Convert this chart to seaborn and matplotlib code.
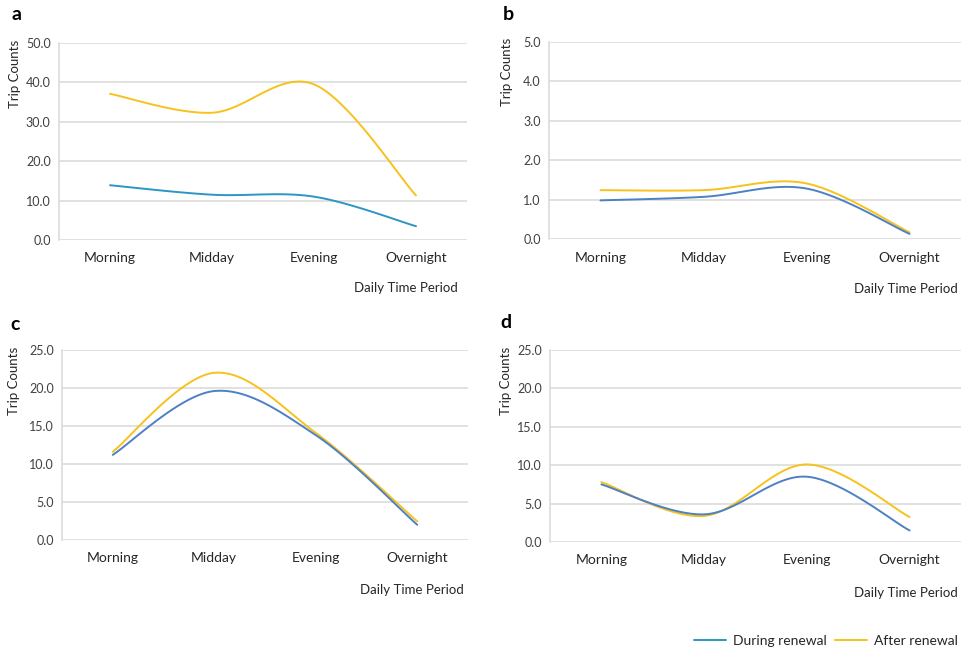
import numpy as np
import pandas as pd
import matplotlib
matplotlib.use("Agg")
import matplotlib.pyplot as plt
import seaborn as sns
from matplotlib.ticker import FormatStrFormatter

sns.set_theme(style="white")
plt.rcParams['font.family'] = ['Lato', 'DejaVu Sans']

periods = ['Morning', 'Midday', 'Evening', 'Overnight']

# trip counts
a_during = [13.9, 11.5, 11.0, 3.5]
a_after = [37.1, 32.3, 39.5, 11.3]
b_during = [0.98, 1.07, 1.28, 0.13]
b_after = [1.24, 1.24, 1.41, 0.17]
c_during = [11.2, 19.6, 13.8, 2.0]
c_after = [11.6, 22.0, 14.1, 2.45]
d_during = [7.5, 3.6, 8.5, 1.5]
d_after = [7.8, 3.4, 10.1, 3.25]

y_max = {'a': 50, 'b': 5, 'c': 25, 'd': 25}
y_step = {'a': 10, 'b': 1, 'c': 5, 'd': 5}

YELLOW = '#f7c21c'
TEAL = '#2a97c4'
STEEL = '#4d80c4'
GRID = '#d9d9d9'


def smooth(vals, n=40):
    # Excel-style smoothed line: bezier through the points, catmull-rom controls
    pts = np.column_stack([np.arange(len(vals)), vals]).astype(float)
    xs, ys = [], []
    for i in range(len(pts) - 1):
        p0 = pts[i - 1] if i > 0 else pts[i]
        p1, p2 = pts[i], pts[i + 1]
        p3 = pts[i + 2] if i + 2 < len(pts) else pts[i + 1]
        c1 = p1 + (p2 - p0) / 6
        c2 = p2 - (p3 - p1) / 6
        t = np.linspace(0, 1, n)[:, None]
        seg = ((1 - t) ** 3 * p1 + 3 * (1 - t) ** 2 * t * c1
               + 3 * (1 - t) * t ** 2 * c2 + t ** 3 * p2)
        xs.extend(seg[:, 0])
        ys.extend(seg[:, 1])
    return xs, ys


fig = plt.figure(figsize=(9.68, 6.54), dpi=100)
W, H = 968, 654

panels = {
    'a': dict(box=(59, 43, 467, 240), data=(a_during, a_after), blue=TEAL,
              letter=(16, 15), ylab=(15, 40), xlab=(458, 288)),
    'b': dict(box=(549, 42, 961, 239), data=(b_during, b_after), blue=STEEL,
              letter=(508, 15), ylab=(507, 38), xlab=(958, 289)),
    'c': dict(box=(62, 350, 468, 540), data=(c_during, c_after), blue=STEEL,
              letter=(15, 324), ylab=(14, 347), xlab=(464, 590)),
    'd': dict(box=(550, 350, 961, 542), data=(d_during, d_after), blue=STEEL,
              letter=(506, 323), ylab=(506, 347), xlab=(958, 593)),
}

for key, p in panels.items():
    x0, y0, x1, y1 = p['box']
    ax = fig.add_axes([x0 / W, 1 - y1 / H, (x1 - x0) / W, (y1 - y0) / H])
    during, after = p['data']
    frames = []
    for name, vals in [('During renewal', during), ('After renewal', after)]:
        sx, sy = smooth(vals)
        frames.append(pd.DataFrame({'x': sx, 'y': sy, 'series': name}))
    df = pd.concat(frames, ignore_index=True)
    sns.lineplot(data=df, x='x', y='y', hue='series', sort=False, ax=ax,
                 palette={'During renewal': p['blue'], 'After renewal': YELLOW},
                 hue_order=['After renewal', 'During renewal'],
                 linewidth=1.4, legend=False)
    ax.set_xlim(-0.5, 3.5)
    ax.set_ylim(0, y_max[key])
    ax.set_yticks(np.arange(0, y_max[key] + y_step[key] / 2, y_step[key]))
    ax.yaxis.set_major_formatter(FormatStrFormatter('%.1f'))
    ax.set_xticks(range(len(periods)))
    ax.set_xticklabels(periods)
    ax.grid(axis='y', color=GRID, linewidth=1.1)
    ax.set_axisbelow(True)
    for s in ['top', 'right', 'bottom']:
        ax.spines[s].set_visible(False)
    ax.spines['left'].set_color(GRID)
    ax.spines['left'].set_linewidth(1.1)
    ax.tick_params(axis='y', length=0, pad=6, labelsize=9, labelcolor='#404040')
    ax.tick_params(axis='x', length=0, pad=9, labelsize=10, labelcolor='#262626')
    ax.set_xlabel('')
    ax.set_ylabel('')
    lx, ly = p['letter']
    fig.text(lx / W, 1 - ly / H, key, fontsize=14, fontweight='bold',
             ha='center', va='center', color='black')
    yx, yy = p['ylab']
    fig.text(yx / W, 1 - yy / H, 'Trip Counts', rotation=90, fontsize=9.5,
             ha='center', va='top', color='#262626')
    xx, xy = p['xlab']
    fig.text(xx / W, 1 - xy / H, 'Daily Time Period', fontsize=9.5,
             ha='right', va='center', color='#262626')

# legend along the bottom right
handles = [plt.Line2D([], [], color=TEAL, lw=1.4),
           plt.Line2D([], [], color=YELLOW, lw=1.4)]
fig.legend(handles, ['During renewal', 'After renewal'], loc='center right',
           bbox_to_anchor=(970 / W, 1 - 641 / H), ncol=2, frameon=False,
           fontsize=10, handlelength=2.3, handletextpad=0.5, columnspacing=0.6,
           labelcolor='#262626')

fig.savefig('out.png', dpi=100)
